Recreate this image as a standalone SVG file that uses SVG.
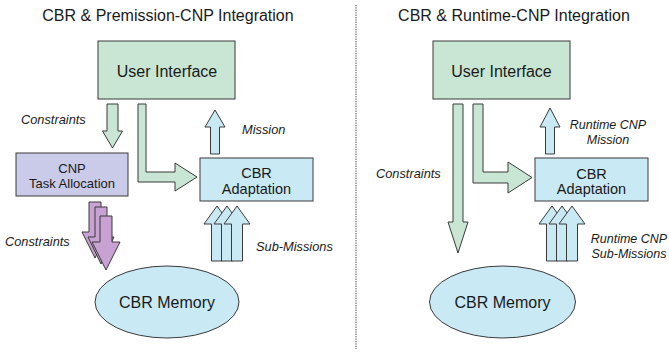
<svg xmlns="http://www.w3.org/2000/svg" width="669" height="353" viewBox="0 0 669 353">
<style>
text{font-family:"Liberation Sans",Arial,sans-serif;fill:#1a1a1a}
.title{font-size:16px;text-anchor:middle}
.big{font-size:16px;text-anchor:middle}
.mid{font-size:14.5px;text-anchor:middle}
.sm{font-size:13px;text-anchor:middle}
.lbl{font-size:12.8px;font-style:italic}
.lblc{font-size:12.5px;font-style:italic;text-anchor:middle}
.green{fill:#c8e6d3;stroke:#3a3a3a;stroke-width:1}
.blue{fill:#c9e9f5;stroke:#3a3a3a;stroke-width:1}
.lav{fill:#c9cbe8;stroke:#3a3a3a;stroke-width:1}
.purp{fill:#c8a2d2;stroke:#3a3a3a;stroke-width:1}
.div{stroke:#333;stroke-width:1;stroke-dasharray:1.2,1.2;fill:none}
</style>
<rect width="669" height="353" fill="#fff"/>

<text class="title" x="168" y="21">CBR &amp; Premission-CNP Integration</text>
<text class="title" x="514" y="21">CBR &amp; Runtime-CNP Integration</text>
<line class="div" x1="356" y1="5" x2="356" y2="349"/>

<!-- Left panel nodes -->
<g id="ui-left">
<rect class="green" x="98" y="41" width="137" height="58"/>
<text class="big" x="167" y="77">User Interface</text>
</g>
<g id="cnp-left">
<rect class="lav" x="16" y="153" width="112" height="43"/>
<text class="sm" x="72" y="173">CNP</text>
<text class="sm" x="72" y="188">Task Allocation</text>
</g>
<g id="cbr-adapt-left">
<rect class="blue" x="200" y="158" width="113" height="43"/>
<text class="mid" x="256.5" y="178">CBR</text>
<text class="mid" x="256.5" y="194">Adaptation</text>
</g>
<g id="mem-left">
<ellipse class="blue" cx="167" cy="302" rx="72" ry="36"/>
<text class="big" x="167" y="308">CBR Memory</text>
</g>

<!-- Right panel nodes -->
<g id="ui-right">
<rect class="green" x="433" y="41" width="137" height="58"/>
<text class="big" x="501.5" y="77">User Interface</text>
</g>
<g id="cbr-adapt-right">
<rect class="blue" x="535" y="158" width="113" height="43"/>
<text class="mid" x="591.5" y="179">CBR</text>
<text class="mid" x="591.5" y="194">Adaptation</text>
</g>
<g id="mem-right">
<ellipse class="blue" cx="502.5" cy="302" rx="73" ry="36"/>
<text class="big" x="502.5" y="308">CBR Memory</text>
</g>

<!-- Connectors -->
<g id="connectors">
<!-- left -->
<path class="green" d="M107,104 H118 V131 H122.5 L112.5,148 L102.5,131 H107 Z"/>
<path class="green" d="M138,104 H146 V172 H175 V163 L197,177 L175,191 V182 H138 Z"/>
<path class="blue" d="M210.5,154 V127 H205 L215,110 L225,127 H219.5 V154 Z"/>
<path class="purp" d="M89,202 H101 V232 H108 L95,258 L82,232 H89 Z"/>
<path class="purp" d="M95,207 H107 V237 H114 L101,264 L88,237 H95 Z"/>
<path class="purp" d="M100,216 H112 V242 H120 L106,270 L92,242 H100 Z"/>
<path class="blue" d="M211.5,261 V224 H204 L217,206 L230,224 H222.5 V261 Z"/>
<path class="blue" d="M221.5,261 V224 H214 L227,206 L240,224 H232.5 V261 Z"/>
<path class="blue" d="M231.5,261 V224 H224 L237,206 L250,224 H242.5 V261 Z"/>
<!-- right -->
<path class="green" d="M453,104 H463 V222 H468 L458,253 L448,222 H453 Z"/>
<path class="green" d="M473,104 H483 V172 H508 V162 L532,177.5 L508,193 V183 H473 Z"/>
<path class="blue" d="M545.5,154 V127 H540 L550,108 L560,127 H554.5 V154 Z"/>
<path class="blue" d="M546.5,261 V224 H539 L552,206 L565,224 H557.5 V261 Z"/>
<path class="blue" d="M556.5,261 V224 H549 L562,206 L575,224 H567.5 V261 Z"/>
<path class="blue" d="M566.5,261 V224 H559 L572,206 L585,224 H577.5 V261 Z"/>
</g>

<!-- Labels -->
<text class="lbl" x="21" y="124">Constraints</text>
<text class="lbl" x="242" y="134">Mission</text>
<text class="lbl" x="5" y="246">Constraints</text>
<text class="lbl" x="256" y="251">Sub-Missions</text>
<text class="lbl" x="376" y="178">Constraints</text>
<text class="lblc" x="608" y="129">Runtime CNP</text>
<text class="lblc" x="608" y="144">Mission</text>
<text class="lblc" x="629" y="243">Runtime CNP</text>
<text class="lblc" x="629" y="258">Sub-Missions</text>
</svg>
